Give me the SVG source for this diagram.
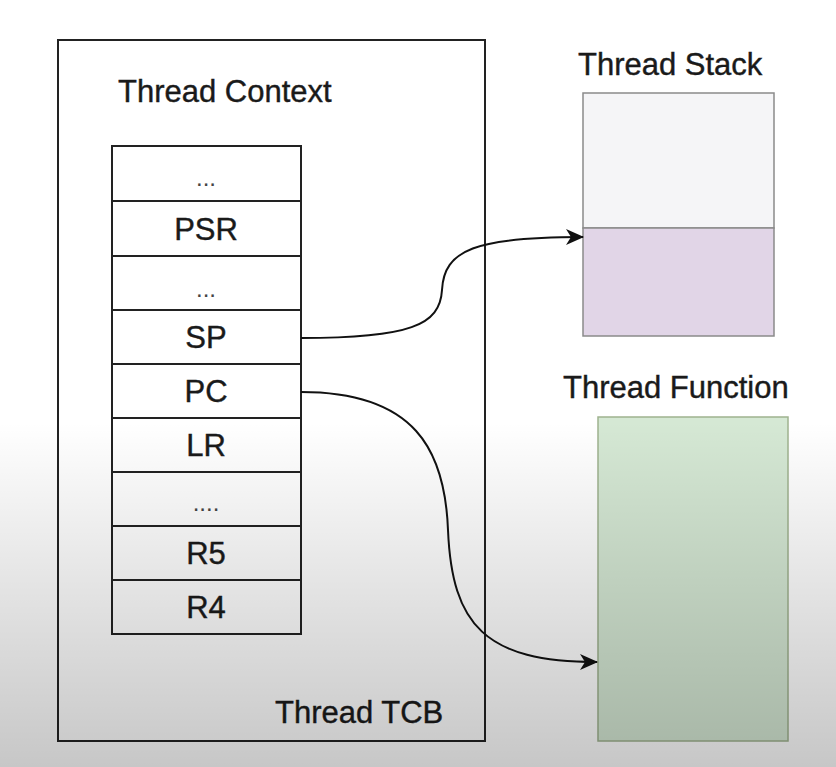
<svg xmlns="http://www.w3.org/2000/svg" width="836" height="767" viewBox="0 0 836 767">
  <defs>
    <linearGradient id="shade" x1="0" y1="0" x2="0" y2="1">
      <stop offset="0" stop-color="#000" stop-opacity="0"/>
      <stop offset="0.55" stop-color="#000" stop-opacity="0"/>
      <stop offset="0.75" stop-color="#000" stop-opacity="0.1"/>
      <stop offset="1" stop-color="#000" stop-opacity="0.22"/>
    </linearGradient>
    <marker id="arrow" viewBox="0 0 18 16" refX="17" refY="8" markerWidth="18" markerHeight="16" markerUnits="userSpaceOnUse" orient="auto">
      <path d="M0,0 L18,8 L0,16 L5,8 Z" fill="#111"/>
    </marker>
    <style>
      text { font-family: "Liberation Sans", Arial, sans-serif; font-size: 31px; fill: #1a1a1a; stroke: #1a1a1a; stroke-width: 0.4; }
      .c { text-anchor: middle; }
      .dots { font-size: 24px; fill: #444; stroke: none; }
      .box { fill: none; stroke: #222; stroke-width: 2; }
      .cell { fill: none; stroke: #222; stroke-width: 2; }
      .edge { fill: none; stroke: #111; stroke-width: 2; marker-end: url(#arrow); }
    </style>
  </defs>
  <rect x="0" y="0" width="836" height="767" fill="#ffffff"/>

  <g id="tcb">
    <rect class="box" x="58" y="40" width="427" height="701"/>
    <text x="275" y="723">Thread TCB</text>
  </g>

  <g id="context">
    <text x="118" y="102">Thread Context</text>
    <rect class="cell" x="112" y="146" width="189" height="488"/>
    <path class="cell" d="M112,201H301M112,256H301M112,310H301M112,364H301M112,418H301M112,472H301M112,526H301M112,580H301"/>
    <text class="c dots" x="206" y="186">...</text>
    <text class="c" x="206" y="240">PSR</text>
    <text class="c dots" x="206" y="297">...</text>
    <text class="c" x="206" y="348">SP</text>
    <text class="c" x="206" y="402">PC</text>
    <text class="c" x="206" y="456">LR</text>
    <text class="c dots" x="206" y="511">....</text>
    <text class="c" x="206" y="564">R5</text>
    <text class="c" x="206" y="618">R4</text>
  </g>

  <g id="stack">
    <text x="578" y="75">Thread Stack</text>
    <rect x="583" y="93" width="191" height="135" fill="#f5f5f7" stroke="#8a8a8a" stroke-width="1.5"/>
    <rect x="583" y="228" width="191" height="108" fill="#e1d5e7" stroke="#8a8a8a" stroke-width="1.5"/>
  </g>

  <g id="function">
    <text x="563" y="398">Thread Function</text>
    <rect x="598" y="417" width="190" height="324" fill="#d5e8d4" stroke="#9fb38f" stroke-width="1.5"/>
  </g>

  <g id="connectors">
    <path class="edge" d="M301,338 C410,338 440,325 442,290 C444,250 475,237 583,237"/>
    <path class="edge" d="M301,392 C415,392 445,450 448,530 C452,625 485,662 597,662"/>
  </g>

  <rect x="0" y="0" width="836" height="767" fill="url(#shade)" pointer-events="none"/>
</svg>
